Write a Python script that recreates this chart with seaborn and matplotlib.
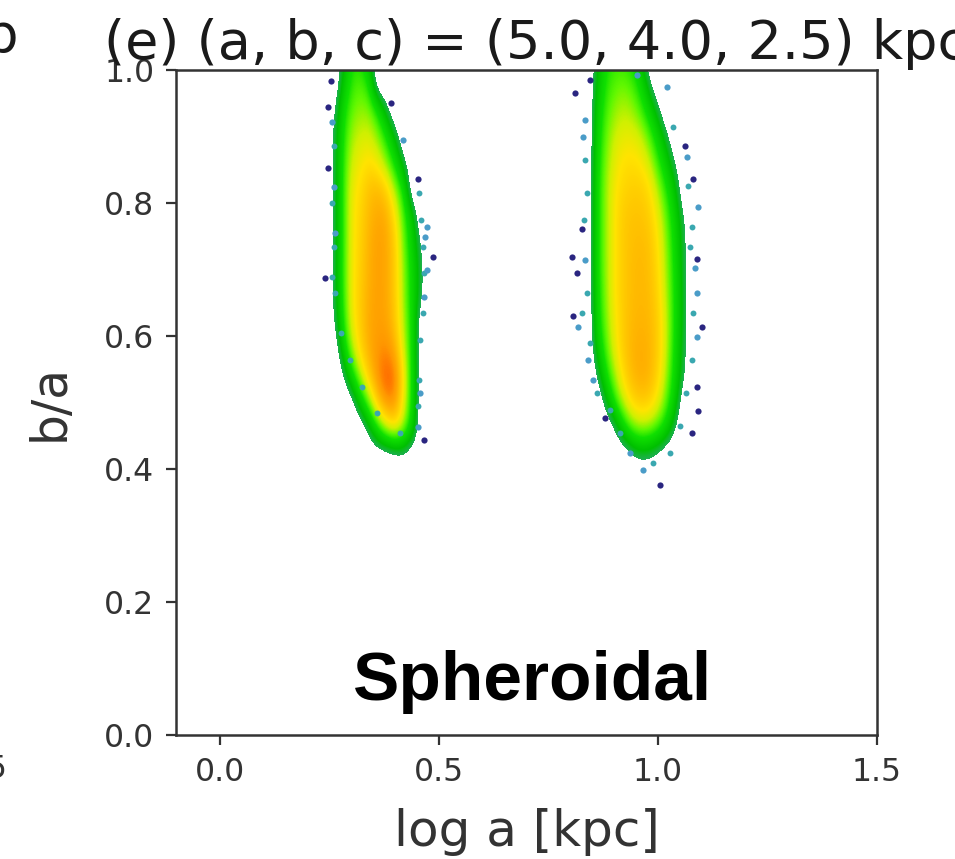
import numpy as np
import pandas as pd
import matplotlib
matplotlib.use("Agg")
import matplotlib.pyplot as plt
import seaborn as sns
from matplotlib.colors import LinearSegmentedColormap, Normalize
from matplotlib.patches import Rectangle

# ---------------- data ----------------
# cloud 1 : density grid, rows from top (b/a = 1.02) to bottom (0.38)
cloud1_loga = [0.24, 0.26, 0.28, 0.30, 0.32, 0.34, 0.36, 0.38, 0.40, 0.42, 0.44, 0.46, 0.48]
cloud1_ba = [1.02, 0.98, 0.94, 0.90, 0.86, 0.82, 0.78, 0.74, 0.70, 0.66, 0.62, 0.58, 0.54,
             0.50, 0.46, 0.42, 0.38]
cloud1_density = [
    [0, 0,   .20, .42, .42, .28, 0,   0,   0,   0,   0,   0,   0],
    [0, 0,   .28, .46, .50, .42, 0,   0,   0,   0,   0,   0,   0],
    [0, .12, .38, .52, .56, .55, .42, .18, 0,   0,   0,   0,   0],
    [0, .16, .42, .58, .63, .64, .56, .42, .22, 0,   0,   0,   0],
    [0, .16, .44, .63, .68, .72, .68, .56, .40, .18, 0,   0,   0],
    [0, .16, .45, .67, .72, .80, .82, .76, .58, .40, 0,   0,   0],
    [0, .16, .45, .68, .74, .82, .86, .85, .70, .48, .28, 0,   0],
    [0, .16, .45, .68, .75, .84, .88, .86, .76, .52, .32, .12, 0],
    [0, .16, .46, .68, .76, .84, .88, .86, .76, .55, .36, .16, 0],
    [0, .16, .45, .68, .77, .85, .88, .86, .77, .56, .36, .16, 0],
    [0, .12, .42, .66, .77, .86, .88, .87, .78, .58, .38, 0,   0],
    [0, 0,   .32, .58, .74, .85, .90, .92, .85, .62, .38, 0,   0],
    [0, 0,   .10, .38, .60, .78, .92, .98, .95, .68, .38, 0,   0],
    [0, 0,   0,   .05, .32, .55, .80, .92, .90, .66, .38, 0,   0],
    [0, 0,   0,   0,   0,   .18, .42, .62, .70, .56, .32, 0,   0],
    [0, 0,   0,   0,   0,   0,   0,   0,   .05, .08, 0,   0,   0],
    [0, 0,   0,   0,   0,   0,   0,   0,   0,   0,   0,   0,   0],
]

# cloud 2 : density grid, rows from top (b/a = 1.02) to bottom (0.34)
cloud2_loga = [0.82, 0.84, 0.86, 0.88, 0.90, 0.92, 0.94, 0.96, 0.98, 1.00, 1.02, 1.04, 1.06, 1.08, 1.10]
cloud2_ba = [1.02, 0.98, 0.94, 0.90, 0.86, 0.82, 0.78, 0.74, 0.70, 0.66, 0.62, 0.58, 0.54,
             0.50, 0.46, 0.42, 0.38, 0.34]
cloud2_density = [
    [0, 0, .22, .40, .45, .45, .40, .25, 0,   0,   0,   0,   0,   0, 0],
    [0, 0, .26, .44, .50, .52, .48, .38, .16, 0,   0,   0,   0,   0, 0],
    [0, 0, .32, .48, .56, .60, .57, .48, .34, .16, 0,   0,   0,   0, 0],
    [0, 0, .35, .52, .62, .66, .66, .62, .50, .34, .16, 0,   0,   0, 0],
    [0, 0, .38, .55, .66, .71, .72, .70, .62, .46, .30, .12, 0,   0, 0],
    [0, 0, .40, .57, .69, .74, .76, .76, .72, .58, .42, .25, 0,   0, 0],
    [0, 0, .40, .57, .70, .77, .79, .79, .76, .66, .50, .32, .12, 0, 0],
    [0, 0, .40, .57, .70, .77, .80, .81, .79, .70, .54, .35, .16, 0, 0],
    [0, 0, .40, .57, .70, .77, .81, .82, .80, .72, .56, .37, .16, 0, 0],
    [0, 0, .38, .56, .70, .77, .81, .82, .81, .74, .58, .38, .18, 0, 0],
    [0, 0, .36, .54, .68, .77, .82, .83, .82, .76, .60, .38, .18, 0, 0],
    [0, 0, .28, .50, .66, .77, .83, .85, .83, .76, .60, .36, .16, 0, 0],
    [0, 0, .14, .40, .58, .73, .82, .85, .83, .74, .56, .34, .14, 0, 0],
    [0, 0, 0,   .20, .45, .62, .74, .78, .76, .66, .50, .28, 0,   0, 0],
    [0, 0, 0,   0,   .12, .36, .52, .58, .56, .48, .34, .12, 0,   0, 0],
    [0, 0, 0,   0,   0,   0,   .10, .16, .14, .08, 0,   0,   0,   0, 0],
    [0, 0, 0,   0,   0,   0,   0,   0,   0,   0,   0,   0,   0,   0, 0],
    [0, 0, 0,   0,   0,   0,   0,   0,   0,   0,   0,   0,   0,   0, 0],
]

# sparse outlying points (dark = lowest density, blue = low density)
sparse_dark_loga = [0.253, 0.248, 0.390, 0.248, 0.453, 0.487, 0.239, 0.465,
                    0.845, 0.811, 1.062, 1.080, 0.827, 0.804, 0.815, 1.089,
                    0.806, 1.100, 0.879, 1.089, 1.091, 1.005, 1.077]
sparse_dark_ba = [0.984, 0.945, 0.950, 0.853, 0.836, 0.719, 0.687, 0.444,
                  0.985, 0.965, 0.886, 0.836, 0.761, 0.719, 0.695, 0.716,
                  0.630, 0.614, 0.477, 0.523, 0.487, 0.376, 0.454]
sparse_blue_loga = [0.257, 0.260, 0.474, 0.469, 0.474, 0.465, 0.458, 0.453, 0.264, 0.419,
                    0.834, 0.829, 1.066, 1.091, 0.834, 1.084, 1.089, 0.818, 1.089,
                    0.841, 0.852, 0.966, 0.936, 1.021, 0.952]
sparse_blue_ba = [0.922, 0.824, 0.764, 0.749, 0.699, 0.659, 0.514, 0.463, 0.755, 0.895,
                  0.925, 0.899, 0.869, 0.794, 0.714, 0.702, 0.665, 0.614, 0.598,
                  0.564, 0.534, 0.398, 0.424, 0.974, 0.992]
# teal points lying along the edges of the clouds
edge_teal_loga = [0.454, 0.459, 0.464, 0.467, 0.464, 0.456, 0.454, 0.452, 0.412,
                  0.260, 0.257, 0.260, 0.257, 0.264, 0.276, 0.298, 0.325, 0.359,
                  0.834, 0.838, 0.831, 0.838, 0.826, 0.845, 0.860, 0.891, 0.913,
                  1.035, 1.069, 1.077, 1.073, 1.080, 1.077, 1.065, 1.050, 1.027, 0.989]
edge_teal_ba = [0.815, 0.774, 0.734, 0.694, 0.634, 0.594, 0.534, 0.494, 0.454,
                0.885, 0.800, 0.734, 0.689, 0.664, 0.604, 0.564, 0.524, 0.484,
                0.865, 0.815, 0.774, 0.664, 0.634, 0.589, 0.514, 0.489, 0.454,
                0.915, 0.825, 0.764, 0.734, 0.634, 0.564, 0.514, 0.464, 0.424, 0.409]

x_ticks = [0.0, 0.5, 1.0, 1.5]
y_ticks = [0.0, 0.2, 0.4, 0.6, 0.8, 1.0]
title_text = "(e) (a, b, c) = (5.0, 4.0, 2.5) kpc"
x_label = "log a [kpc]"
y_label = "b/a"
panel_label = "Spheroidal"

# ---------------- style ----------------
sns.set_style("ticks")
plt.rcParams["font.family"] = ["DejaVu Sans"]

W, H = 955, 859
fig = plt.figure(figsize=(W / 100, H / 100), dpi=100)
ax = fig.add_axes([176 / W, 1 - 735 / H, (877 - 176) / W, (735 - 70) / H])

cmap = LinearSegmentedColormap.from_list(
    "dens",
    [(0.0, "#1fb050"), (0.118, "#00c000"), (0.318, "#10e000"), (0.435, "#60f800"),
     (0.553, "#d0f000"), (0.647, "#ffe400"), (0.765, "#ffc000"), (0.882, "#ff9800"),
     (1.0, "#ff4800")])
cmap.set_under((1, 1, 1, 0))
norm = Normalize(vmin=0.15, vmax=1.0)


def draw_cloud(xs, ys, dens):
    xs = np.asarray(xs)
    ys = np.asarray(ys)
    dx = xs[1] - xs[0]
    dy = abs(ys[0] - ys[1])
    ext = [xs.min() - dx / 2, xs.max() + dx / 2, ys.min() - dy / 2, ys.max() + dy / 2]
    ax.imshow(np.asarray(dens, float), origin="upper", extent=ext, cmap=cmap, norm=norm,
              aspect="auto", interpolation="bicubic", interpolation_stage="data", zorder=2)


draw_cloud(cloud1_loga, cloud1_ba, cloud1_density)
draw_cloud(cloud2_loga, cloud2_ba, cloud2_density)

teal_df = pd.DataFrame({"loga": edge_teal_loga, "ba": edge_teal_ba})
blue_df = pd.DataFrame({"loga": sparse_blue_loga, "ba": sparse_blue_ba})
dark_df = pd.DataFrame({"loga": sparse_dark_loga, "ba": sparse_dark_ba})
sns.scatterplot(data=teal_df, x="loga", y="ba", color="#3aa8b0", s=18, linewidth=0,
                ax=ax, zorder=3)
sns.scatterplot(data=blue_df, x="loga", y="ba", color="#4a9cc8", s=20, linewidth=0,
                ax=ax, zorder=3)
sns.scatterplot(data=dark_df, x="loga", y="ba", color="#2a2580", s=20, linewidth=0,
                ax=ax, zorder=3)

ax.set_xlim(-0.1, 1.5)
ax.set_ylim(0.0, 1.0)
ax.set_xticks(x_ticks)
ax.set_yticks(y_ticks)
ax.tick_params(axis="both", labelsize=22.7, length=7.5, width=1.6, pad=8,
               color="#333333", labelcolor="#333333")
for sp in ax.spines.values():
    sp.set_linewidth(1.8)
    sp.set_color("#333333")
    sp.set_visible(True)

title = ax.set_title(title_text, fontsize=39, color="#1a1a1a", pad=5)
title.set_x(0.513)
ax.set_xlabel(x_label, fontsize=36, color="#333333", labelpad=15)
ax.set_ylabel(y_label, fontsize=35, color="#333333")
ax.yaxis.set_label_coords(-(176 - 74) / (877 - 176), 0.5)

ax.text(0.508, 0.053, panel_label, transform=ax.transAxes, ha="center", va="baseline",
        fontsize=50, fontweight="bold", family="Liberation Sans", color="black", zorder=5)

# fragments of neighbouring panels cut by the crop
fig.text(48 / W, 1 - 52 / H, "kpc", ha="right", va="baseline", fontsize=39, color="#1a1a1a")
fig.patches.append(Rectangle((20 / W, 1 - 70 / H), 70 / W, 70 / H, transform=fig.transFigure,
                             facecolor="white", edgecolor="none", zorder=10))
fig.text(8 / W, 1 - 778 / H, "1.5", ha="right", va="baseline", fontsize=22.7, color="#333333")

fig.savefig("out.png", dpi=100)
